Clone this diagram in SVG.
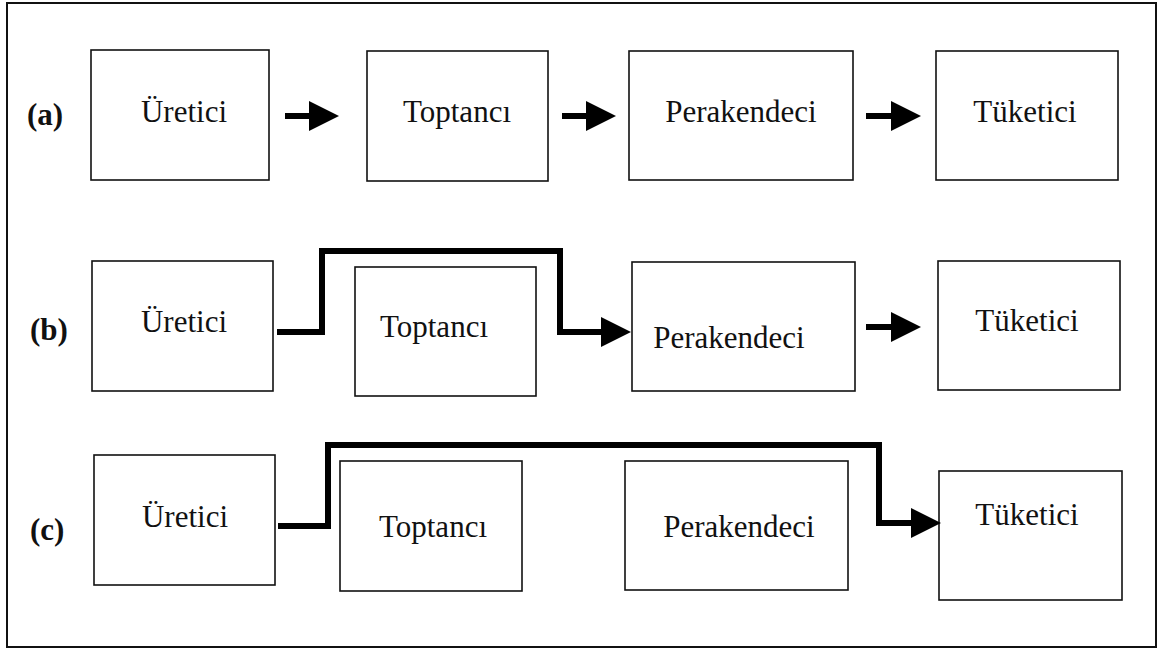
<svg xmlns="http://www.w3.org/2000/svg" width="1160" height="649" viewBox="0 0 1160 649">
<style>
.box{fill:#fff;stroke:#111;stroke-width:1.6}
.t{font-family:"Liberation Serif","Times New Roman",serif;font-size:31px;fill:#111;text-anchor:middle}
.lbl{font-family:"Liberation Serif","Times New Roman",serif;font-size:31px;font-weight:bold;fill:#111}
.c{fill:none;stroke:#000;stroke-width:6;stroke-linejoin:miter}
</style>
<defs>
<marker id="ah" markerUnits="userSpaceOnUse" markerWidth="32" markerHeight="32" refX="1" refY="15" orient="auto">
<path d="M0,0 L30,15 L0,30 Z" fill="#000"/>
</marker>
</defs>
<rect x="0" y="0" width="1160" height="649" fill="#fff"/>
<rect x="7" y="3" width="1149" height="644" fill="none" stroke="#111" stroke-width="2"/>
<g id="labels">
<text class="lbl" x="27" y="125">(a)</text>
<text class="lbl" x="30" y="340">(b)</text>
<text class="lbl" x="30" y="540">(c)</text>
</g>
<g id="a-uretici"><rect class="box" x="91" y="50" width="178" height="130"/><text class="t" x="184" y="122">Üretici</text></g>
<g id="a-toptanci"><rect class="box" x="367" y="51" width="181" height="130"/><text class="t" x="457" y="122">Toptancı</text></g>
<g id="a-perakendeci"><rect class="box" x="629" y="51" width="224" height="129"/><text class="t" x="741" y="122">Perakendeci</text></g>
<g id="a-tuketici"><rect class="box" x="936" y="51" width="182" height="129"/><text class="t" x="1025" y="122">Tüketici</text></g>
<g id="b-uretici"><rect class="box" x="92" y="261" width="181" height="130"/><text class="t" x="184" y="332">Üretici</text></g>
<g id="b-toptanci"><rect class="box" x="355" y="267" width="181" height="129"/><text class="t" x="434" y="337">Toptancı</text></g>
<g id="b-perakendeci"><rect class="box" x="632" y="262" width="223" height="129"/><text class="t" x="729" y="348">Perakendeci</text></g>
<g id="b-tuketici"><rect class="box" x="938" y="261" width="182" height="129"/><text class="t" x="1027" y="331">Tüketici</text></g>
<g id="c-uretici"><rect class="box" x="94" y="455" width="181" height="130"/><text class="t" x="185" y="527">Üretici</text></g>
<g id="c-toptanci"><rect class="box" x="340" y="461" width="182" height="130"/><text class="t" x="433" y="537">Toptancı</text></g>
<g id="c-perakendeci"><rect class="box" x="625" y="461" width="223" height="129"/><text class="t" x="739" y="537">Perakendeci</text></g>
<g id="c-tuketici"><rect class="box" x="939" y="471" width="183" height="129"/><text class="t" x="1027" y="525">Tüketici</text></g>
<g id="connectors">
<path class="c" d="M285,116 H310" marker-end="url(#ah)"/>
<path class="c" d="M562,116 H587" marker-end="url(#ah)"/>
<path class="c" d="M866,116 H892" marker-end="url(#ah)"/>
<path class="c" d="M277,332 H322 V251 H560 V332 H602" marker-end="url(#ah)"/>
<path class="c" d="M866,327 H892" marker-end="url(#ah)"/>
<path class="c" d="M278,526 H328 V445 H879 V523 H912" marker-end="url(#ah)"/>
</g>
</svg>
